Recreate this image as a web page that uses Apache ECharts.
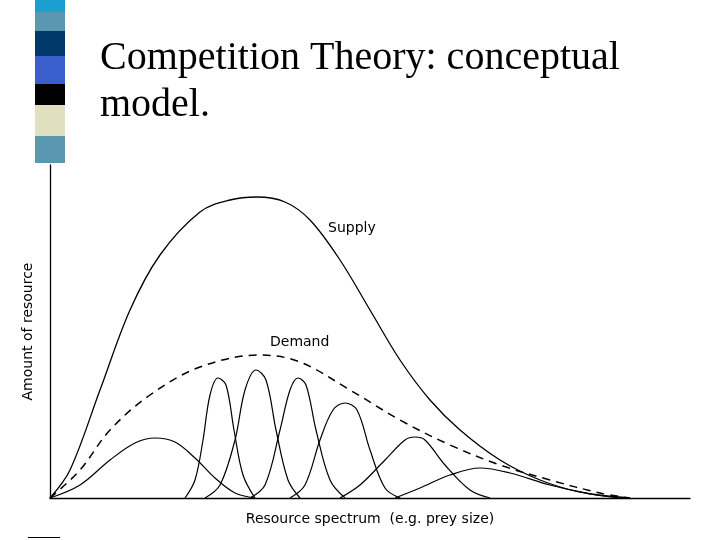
<!DOCTYPE html><html><head><meta charset="utf-8">
<script src="https://cdn.jsdelivr.net/npm/echarts@6/dist/echarts.min.js"></script>
<style>html,body{margin:0;background:#fff}#c{width:720px;height:540px}</style></head><body><div id="c"></div>
<script>
// values in picture units: x = horizontal position along resource spectrum, y = amount
const supply=[[0,0],[20,28],[50,108],[80,188],[110,243],[150,286],[180,298],[207,301],[235,296],[260,278],[290,238],[320,188],[350,138],[380,98],[410,68],[450,38],[490,18],[530,6],[580,0]];
const demand=[[0,0],[30,28],[60,68],[100,103],[150,131],[210,143],[250,136],[300,108],[350,78],[400,53],[450,33],[500,18],[550,5],[580,0]];
const species=[
 [[0,0],[30,13],[60,38],[85,55],[105,60],[125,56],[145,40],[165,20],[185,5],[205,0]],
 [[135,0],[145,18],[153,58],[160,103],[168,120],[176,113],[184,68],[193,23],[205,0]],
 [[155,0],[170,13],[185,58],[195,108],[206,128],[216,118],[226,68],[238,18],[250,0]],
 [[200,0],[215,13],[230,68],[240,108],[248,120],[256,113],[266,68],[280,18],[295,0]],
 [[240,0],[255,13],[270,58],[283,88],[295,95],[307,88],[320,48],[335,10],[350,0]],
 [[290,0],[310,13],[335,38],[355,58],[365,61],[375,58],[395,33],[420,8],[440,0]],
 [[345,0],[370,10],[400,23],[430,30],[460,25],[500,13],[540,4],[570,0]]
];
const series=[
 {type:'line',data:supply,smooth:0.35,symbol:'none',lineStyle:{color:'#000',width:1.3}},
 {type:'line',data:demand,smooth:0.35,symbol:'none',lineStyle:{color:'#000',width:1.5,type:[8,6]}}
];
species.forEach(s=>series.push({type:'line',data:s,smooth:0.35,symbol:'none',lineStyle:{color:'#000',width:1.2}}));
const strip=[['#1aa0d0',0,12],['#5b97b0',12,31],['#00386a',31,56],['#3a5fcd',56,84],['#000000',84,105],['#e0e0c0',105,136],['#5b97b0',136,163]];
const g=strip.map(s=>({type:'rect',shape:{x:35,y:s[1],width:30,height:s[2]-s[1]},style:{fill:s[0]}}));
g.push({type:'text',left:100,top:35,style:{text:'Competition Theory: conceptual\nmodel.',font:'40px "Liberation Serif"',fill:'#000',lineHeight:47}});
g.push({type:'text',left:328,top:221,style:{text:'Supply',font:'14px "DejaVu Sans"',fill:'#000'}});
g.push({type:'text',left:270,top:335,style:{text:'Demand',font:'14px "DejaVu Sans"',fill:'#000'}});
g.push({type:'rect',shape:{x:28,y:537,width:32,height:1},style:{fill:'#000'}});
const chart=echarts.init(document.getElementById('c'));
chart.setOption({animation:false,
 grid:{left:50,top:165,right:30,bottom:42},
 xAxis:{type:'value',min:0,max:640,name:'Resource spectrum  (e.g. prey size)',nameLocation:'middle',nameGap:14,nameTextStyle:{fontSize:14,color:'#000',fontFamily:'DejaVu Sans'},axisLine:{lineStyle:{color:'#000',width:1.3}},axisTick:{show:false},axisLabel:{show:false},splitLine:{show:false}},
 yAxis:{type:'value',min:0,max:333,name:'Amount of resource',nameLocation:'middle',nameGap:15,nameTextStyle:{fontSize:14,color:'#000',fontFamily:'DejaVu Sans'},axisLine:{show:true,lineStyle:{color:'#000',width:1.3}},axisTick:{show:false},axisLabel:{show:false},splitLine:{show:false}},
 series:series,graphic:g});
</script></body></html>
